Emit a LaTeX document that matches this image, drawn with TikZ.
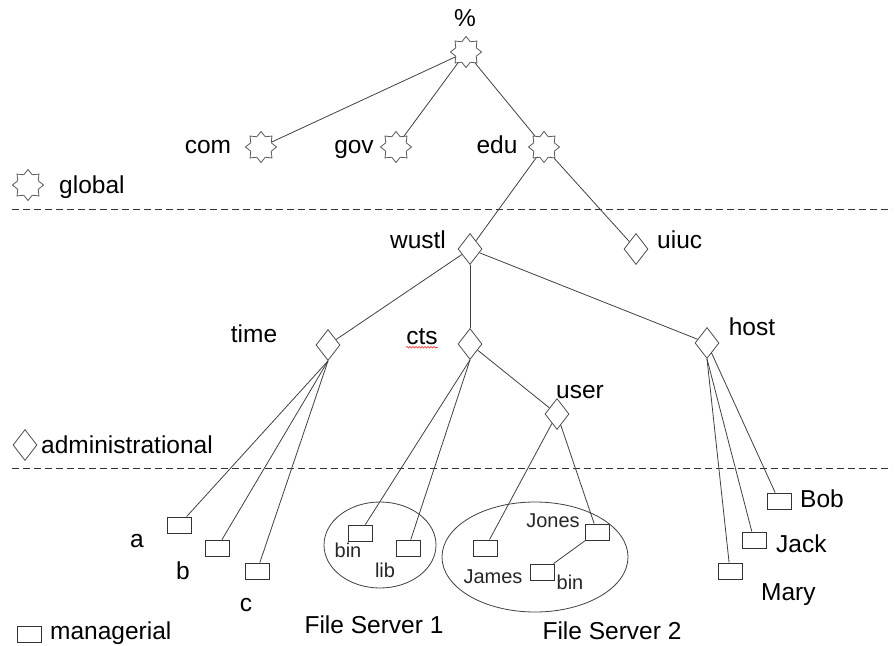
\documentclass[tikz,border=0pt]{standalone}
\usepackage{fontspec}
\setmainfont{Liberation Sans}
\usetikzlibrary{shapes.geometric,decorations.pathmorphing}
\begin{document}
\begin{tikzpicture}[x=1pt,y=-1pt,
  gstar/.style={star,star points=8,star point ratio=1.4,minimum size=31pt,inner sep=0pt,draw=black!65,line width=0.8pt},
  adm/.style={diamond,minimum width=24pt,minimum height=31pt,inner sep=0pt,draw=black!70,line width=0.8pt},
  mgr/.style={rectangle,minimum width=24pt,minimum height=16pt,inner sep=0pt,draw=black!80,line width=0.8pt},
  big/.style={font=\fontsize{24.5}{28}\selectfont,inner sep=0pt,text height=17.5pt,text depth=5pt},
  small/.style={font=\fontsize{20}{23}\selectfont,inner sep=0pt,text=black!85,text height=14.5pt,text depth=4pt},
  link/.style={draw=black!75,line width=0.8pt},
  sep/.style={draw=black!80,line width=0.9pt,dash pattern=on 7pt off 4pt},
  fs/.style={draw=black!75,line width=0.8pt}]
\useasboundingbox (0,0) rectangle (896,645);

% separators
\coordinate (s1a) at (12,209); \coordinate (s1b) at (892,209);
\coordinate (s2a) at (12,468); \coordinate (s2b) at (892,468);
\draw[sep] (s1a) -- (s1b);
\draw[sep] (s2a) -- (s2b);

% legend
\node[gstar] (lg) at (28,185) {};
\node[big,anchor=west] (lgt) at (59,187) {global};
\node[adm] (la) at (25,445) {};
\node[big,anchor=west] (lat) at (41,447) {administrational};
\node[mgr] (lm) at (29,634) {};
\node[big,anchor=west] (lmt) at (50,633) {managerial};

% global nodes
\node[gstar] (root) at (466,52) {};
\node[big] (rootl) at (465,20) {\%};
\node[gstar] (com) at (261,147) {};
\node[big] (coml) at (208,147) {com};
\node[gstar] (gov) at (396,147) {};
\node[big] (govl) at (354,147) {gov};
\node[gstar] (edu) at (544,147) {};
\node[big] (edul) at (497,147) {edu};

% administrational nodes
\node[adm] (wustl) at (470,249) {};
\node[big] (wustll) at (418,242) {wustl};
\node[adm] (uiuc) at (636,249) {};
\node[big,anchor=west] (uiucl) at (657,242) {uiuc};
\node[adm] (time) at (328,345) {};
\node[big] (timel) at (254,336) {time};
\node[adm] (cts) at (470,344) {};
\node[big] (ctsl) at (422,338) {cts};
\node[adm] (user) at (557,414) {};
\node[big] (userl) at (580,392) {user};
\node[adm] (host) at (707,343) {};
\node[big] (hostl) at (752,329) {host};

% managerial nodes
\node[mgr] (a) at (179,525) {};
\node[big] (al) at (137,541) {a};
\node[mgr] (b) at (217,548) {};
\node[big] (bl) at (183,573) {b};
\node[mgr] (c) at (257,571) {};
\node[big] (cl) at (246,605) {c};

\node[mgr] (bin1) at (360,533) {};
\node[small] (bin1l) at (348,552) {bin};
\node[mgr] (lib) at (408,548) {};
\node[small] (libl) at (385,572) {lib};

\node[mgr] (james) at (485,548) {};
\node[small] (jamesl) at (493,578) {James};
\node[mgr] (jones) at (597,532) {};
\node[small] (jonesl) at (553,522) {Jones};
\node[mgr] (bin2) at (542,572) {};
\node[small] (bin2l) at (570,584) {bin};

\node[mgr] (bob) at (779,501) {};
\node[big,anchor=west] (bobl) at (800,501) {Bob};
\node[mgr] (jack) at (754,540) {};
\node[big,anchor=west] (jackl) at (776,546) {Jack};
\node[mgr] (mary) at (730,571) {};
\node[big,anchor=west] (maryl) at (761,594) {Mary};

% file servers
\node[fs,ellipse,minimum width=112pt,minimum height=86pt,inner sep=0pt] (fs1) at (380,545) {};
\node[fs,ellipse,minimum width=186pt,minimum height=110pt,inner sep=0pt] (fs2) at (535,557) {};
\node[big] (fs1l) at (374,627) {File Server 1};
\node[big] (fs2l) at (612,633) {File Server 2};

% spell-check wave under cts
\draw[red,line width=0.5pt,decorate,decoration={snake,amplitude=0.8pt,segment length=3pt}]
  ([yshift=-3pt]ctsl.base west) -- ([yshift=-3pt]ctsl.base east);

% links
\draw[link] (root) -- (com);
\draw[link] (root) -- (gov);
\draw[link] (root) -- (edu);
\draw[link] (edu) -- (wustl);
\draw[link] (edu) -- (uiuc);
\draw[link] (wustl) -- (time);
\draw[link] (wustl) -- (cts);
\draw[link] (wustl) -- (host);
\draw[link] (time.south) -- (a);
\draw[link] (time.south) -- (b);
\draw[link] (time.south) -- (c);
\draw[link] (cts.south) -- (bin1);
\draw[link] (cts.south) -- (lib);
\draw[link] (cts) -- (user);
\draw[link] (user) -- (james);
\draw[link] (user) -- (jones);
\draw[link] (jones) -- (bin2);
\draw[link] (host.south) -- (mary);
\draw[link] (host.south) -- (jack);
\draw[link] (host) -- (bob);
\end{tikzpicture}
\end{document}
